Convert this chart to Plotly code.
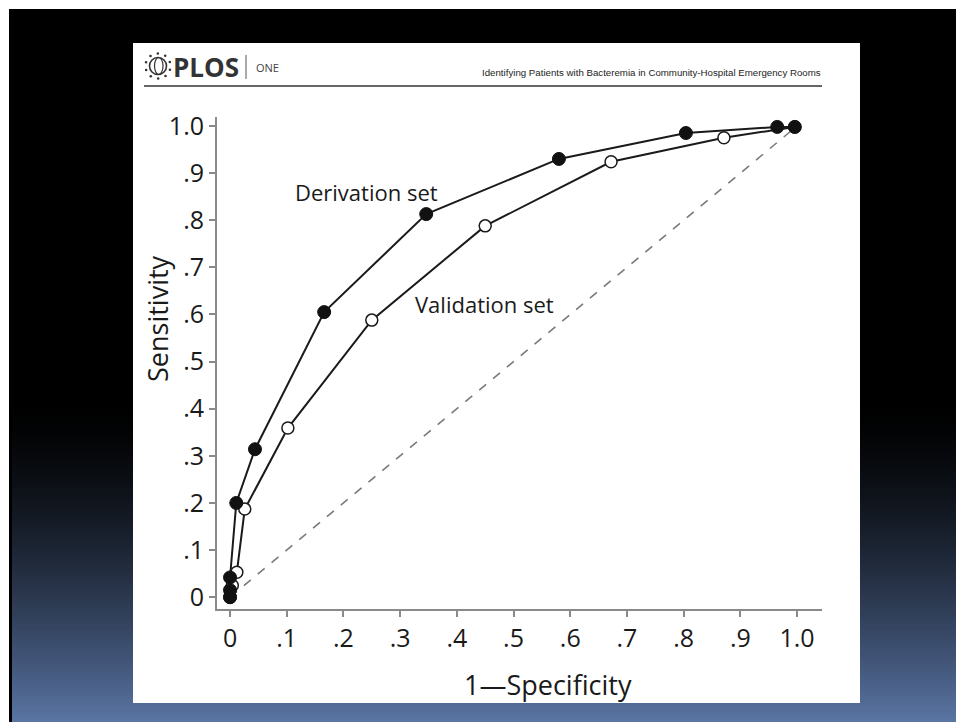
import math
import plotly.graph_objects as go

# ROC curve points (1 - specificity, sensitivity)
deriv_fpr = [0.0, 0.0, 0.0, 0.011, 0.044, 0.166, 0.346, 0.580, 0.804, 0.965, 0.996]
deriv_sens = [0.0, 0.015, 0.042, 0.200, 0.314, 0.605, 0.813, 0.930, 0.985, 0.998, 0.998]

valid_fpr = [0.0, 0.004, 0.012, 0.026, 0.102, 0.250, 0.450, 0.672, 0.871, 0.996]
valid_sens = [0.0, 0.025, 0.053, 0.187, 0.359, 0.588, 0.788, 0.924, 0.975, 0.998]

tick_vals = [0, 0.1, 0.2, 0.3, 0.4, 0.5, 0.6, 0.7, 0.8, 0.9, 1.0]
tick_text = ["0", ".1", ".2", ".3", ".4", ".5", ".6", ".7", ".8", ".9", "1.0"]

W, H = 956, 722
FONT = "Open Sans"


def px(x):
    return x / W


def py(y):
    return 1 - y / H


shapes = []

# slide background: white outer edge, dark slide with a blue gradient towards the bottom
shapes.append(dict(type="rect", xref="paper", yref="paper", x0=0, x1=1, y0=0, y1=1,
                   fillcolor="white", line_width=0, layer="below"))
shapes.append(dict(type="rect", xref="paper", yref="paper", x0=px(9), x1=1, y0=0, y1=py(9),
                   fillcolor="black", line_width=0, layer="below"))
end_rgb = (90, 117, 164)
g_start = 400
step = 2
for y in range(g_start, H, step):
    t = (y + step / 2 - g_start) / (H - g_start)
    f = max(t, 0) ** 1.5
    c = tuple(int(round(v * f)) for v in end_rgb)
    shapes.append(dict(type="rect", xref="paper", yref="paper",
                       x0=px(12), x1=1, y0=py(min(y + step + 1, H)), y1=py(y),
                       fillcolor="rgb(%d,%d,%d)" % c, line_width=0, layer="below"))

# white figure panel
shapes.append(dict(type="rect", xref="paper", yref="paper",
                   x0=px(133), x1=px(860), y0=py(703), y1=py(43),
                   fillcolor="white", line_width=0, layer="below"))

# header rule
shapes.append(dict(type="line", xref="paper", yref="paper",
                   x0=px(144), x1=px(822), y0=py(86), y1=py(86),
                   line=dict(color="#333", width=1.4), layer="below"))
# separator bar in the journal mark
shapes.append(dict(type="line", xref="paper", yref="paper",
                   x0=px(246), x1=px(246), y0=py(55), y1=py(79),
                   line=dict(color="#555", width=1), layer="below"))
# globe emblem
gx, gy, r = 158, 66, 8.5
shapes.append(dict(type="circle", xref="paper", yref="paper",
                   x0=px(gx - r), x1=px(gx + r), y0=py(gy + r), y1=py(gy - r),
                   line=dict(color="#333", width=1.6), layer="below"))
shapes.append(dict(type="circle", xref="paper", yref="paper",
                   x0=px(gx - 3.5), x1=px(gx + 5), y0=py(gy + r), y1=py(gy - r),
                   line=dict(color="#333", width=1.2), layer="below"))
for k in range(10):
    a = 2 * math.pi * k / 10 + 0.3
    dx, dy = gx + 12.5 * math.cos(a), gy + 12.5 * math.sin(a)
    shapes.append(dict(type="circle", xref="paper", yref="paper",
                       x0=px(dx - 1.3), x1=px(dx + 1.3), y0=py(dy + 1.3), y1=py(dy - 1.3),
                       fillcolor="#333", line_width=0, layer="below"))

fig = go.Figure()

# chance diagonal
fig.add_trace(go.Scatter(x=[0, 1], y=[0, 1], mode="lines",
                         line=dict(color="#7a7a7a", width=1.6, dash="dash"),
                         hoverinfo="skip", showlegend=False))

fig.add_trace(go.Scatter(x=valid_fpr, y=valid_sens, mode="lines+markers",
                         name="Validation set",
                         line=dict(color="#1a1a1a", width=2),
                         marker=dict(symbol="circle", size=12, color="white",
                                     line=dict(color="#1a1a1a", width=1.5)),
                         showlegend=False))

fig.add_trace(go.Scatter(x=deriv_fpr, y=deriv_sens, mode="lines+markers",
                         name="Derivation set",
                         line=dict(color="#1a1a1a", width=2),
                         marker=dict(symbol="circle", size=13, color="#111",
                                     line=dict(color="#111", width=1)),
                         showlegend=False))

# plot area placed so the axes line up inside the white panel
x_left, x_right = 217, 822
y_top, y_bottom = 117, 609

axis_common = dict(
    showgrid=False, zeroline=False, showline=True,
    linecolor="#8a8a8a", linewidth=2,
    ticks="outside", ticklen=6, tickwidth=1.5, tickcolor="#8a8a8a",
    tickvals=tick_vals, ticktext=tick_text,
    tickfont=dict(family=FONT, size=25, color="#1a1a1a"),
    fixedrange=True, automargin=False,
)

fig.update_layout(
    width=W, height=H, autosize=False,
    margin=dict(l=0, r=0, t=0, b=0, pad=0, autoexpand=False),
    paper_bgcolor="black",
    plot_bgcolor="white",
    showlegend=False,
    xaxis=dict(domain=[px(x_left), px(x_right)], range=[-0.023, 1.044], **axis_common),
    yaxis=dict(domain=[py(y_bottom), py(y_top)], range=[-0.025, 1.019], **axis_common),
    shapes=shapes,
    annotations=[
        dict(text="Sensitivity", xref="paper", yref="paper", x=px(157), y=py(319),
             textangle=-90, showarrow=False, xanchor="center", yanchor="middle",
             font=dict(family=FONT, size=27, color="#1a1a1a")),
        dict(text="1\u2014Specificity", xref="paper", yref="paper", x=px(548), y=py(684),
             showarrow=False, xanchor="center", yanchor="middle",
             font=dict(family=FONT, size=27, color="#1a1a1a")),
        dict(text="Derivation set", xref="x", yref="y", x=0.24, y=0.86,
             showarrow=False, xanchor="center", yanchor="middle",
             font=dict(family=FONT, size=22, color="#1a1a1a")),
        dict(text="Validation set", xref="x", yref="y", x=0.448, y=0.622,
             showarrow=False, xanchor="center", yanchor="middle",
             font=dict(family=FONT, size=22, color="#1a1a1a")),
        dict(text="<b>PLOS</b>", xref="paper", yref="paper", x=px(171), y=py(67),
             showarrow=False, xanchor="left", yanchor="middle",
             font=dict(family=FONT, size=26, color="#333")),
        dict(text="ONE", xref="paper", yref="paper", x=px(254), y=py(67),
             showarrow=False, xanchor="left", yanchor="middle",
             font=dict(family=FONT, size=11, color="#444")),
        dict(text="Identifying Patients with Bacteremia in Community-Hospital Emergency Rooms",
             xref="paper", yref="paper", x=px(823), y=py(72),
             showarrow=False, xanchor="right", yanchor="middle",
             font=dict(family="Liberation Sans", size=9.7, color="#222")),
    ],
)

fig.write_html("out.html")
